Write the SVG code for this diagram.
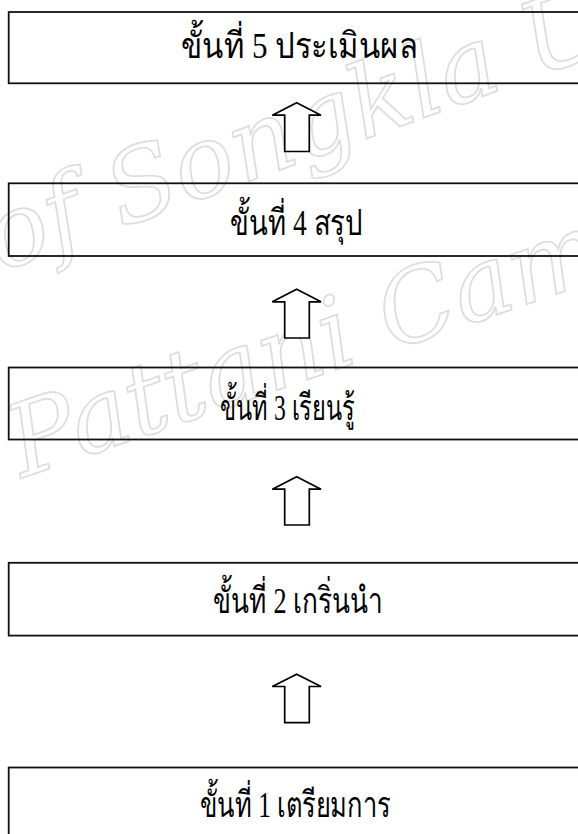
<svg xmlns="http://www.w3.org/2000/svg" width="578" height="834" viewBox="0 0 578 834">
<style>
.box{fill:none;stroke:#111;stroke-width:1.8}
.lbl{font-family:"Liberation Serif","DejaVu Serif","Noto Sans",serif;font-size:36px;fill:#000;text-anchor:middle}
.arr{fill:#fff;stroke:#000;stroke-width:1.7;stroke-linejoin:miter}
.wm{font-family:"DejaVu Serif","Liberation Serif",serif;font-style:italic;font-size:100px;fill:none;stroke:#dedede;stroke-width:1.8}
</style>
<rect width="578" height="834" fill="#fff"/>
<g id="watermark">
<text class="wm" transform="translate(0,272) rotate(-20)">of Songkla Uni</text>
<text class="wm" transform="translate(22,478) rotate(-19)">Pattani Camp</text>
</g>
<g id="connectors">
<path class="arr" d="M296.7,102.7 L321,115.2 L309.3,115.2 L309.3,151.5 L284.7,151.5 L284.7,115.2 L272.3,115.2 Z"/>
<path class="arr" d="M296.7,289.3 L321,301.8 L309.3,301.8 L309.3,338 L284.7,338 L284.7,301.8 L272.3,301.8 Z"/>
<path class="arr" d="M296.7,476.7 L321,489.2 L309.3,489.2 L309.3,525 L284.7,525 L284.7,489.2 L272.3,489.2 Z"/>
<path class="arr" d="M296.7,674.3 L321,686.5 L309.3,686.5 L309.3,722.7 L284.7,722.7 L284.7,686.5 L272.3,686.5 Z"/>
</g>
<g id="step5"><rect class="box" x="8.7" y="12" width="600" height="71.3"/><text class="lbl" x="299" y="58" textLength="237" lengthAdjust="spacingAndGlyphs">ขั้นที่ 5 ประเมินผล</text></g>
<g id="step4"><rect class="box" x="8.7" y="183.3" width="600" height="72.7"/><text class="lbl" x="296" y="235" textLength="133" lengthAdjust="spacingAndGlyphs">ขั้นที่ 4 สรุป</text></g>
<g id="step3"><rect class="box" x="8.7" y="367.5" width="600" height="72"/><text class="lbl" x="287" y="420" textLength="135" lengthAdjust="spacingAndGlyphs">ขั้นที่ 3 เรียนรู้</text></g>
<g id="step2"><rect class="box" x="8.7" y="562.8" width="600" height="72.8"/><text class="lbl" x="298" y="613" textLength="170" lengthAdjust="spacingAndGlyphs">ขั้นที่ 2 เกริ่นนำ</text></g>
<g id="step1"><rect class="box" x="8.7" y="767.5" width="600" height="80"/><text class="lbl" x="295" y="817" textLength="191" lengthAdjust="spacingAndGlyphs">ขั้นที่ 1 เตรียมการ</text></g>
</svg>
